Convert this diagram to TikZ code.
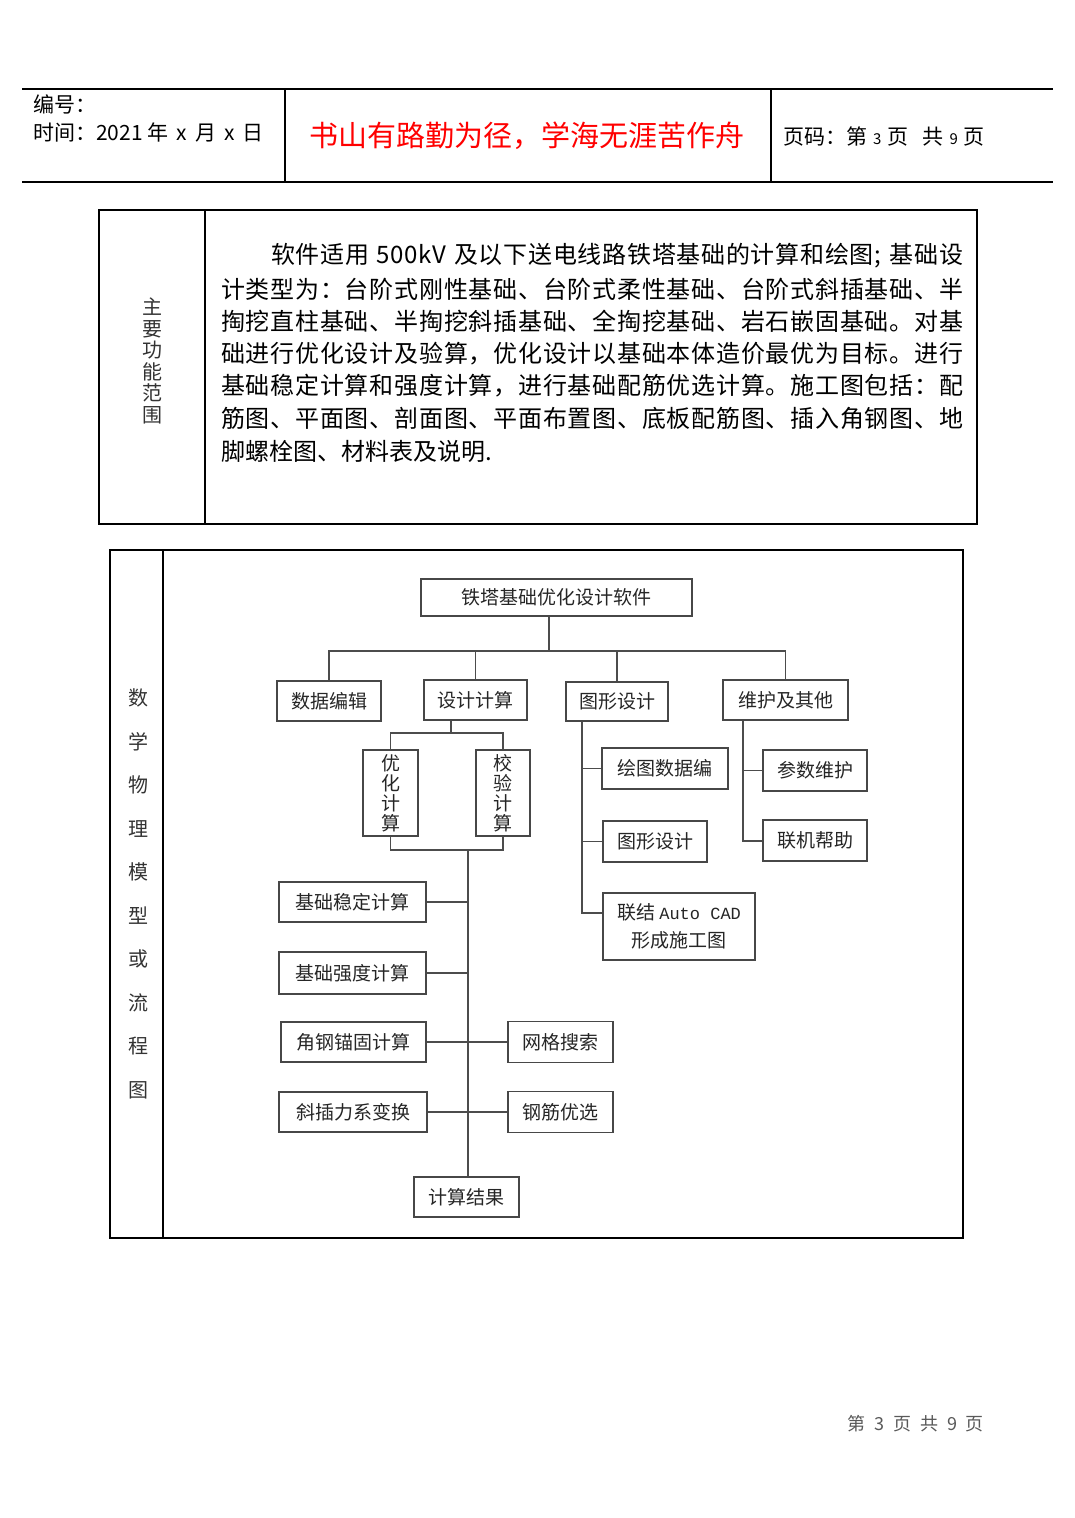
\documentclass[tikz,border=0pt]{standalone}
\usepackage{fontspec}
\setmainfont{Noto Sans CJK SC}
\newfontfamily\cjk{Noto Sans CJK SC}
\newfontfamily\monofam{Liberation Mono}
\newcommand\myjust{\XeTeXinterchartokenstate=1
  \XeTeXinterchartoks 0 0 = {\hskip 0pt plus 1pt}%
  \XeTeXinterchartoks 0 1 = {\hskip 0pt plus 1pt}%
  \XeTeXinterchartoks 1 0 = {\hskip 0pt plus 1pt}%
  \XeTeXinterchartoks 1 1 = {\hskip 0pt plus 1pt}%
  \XeTeXinterchartoks 1 2 = {\hskip 0pt plus 1pt}%
  \XeTeXinterchartoks 1 3 = {\hskip 0pt plus 1pt}%
  \XeTeXinterchartoks 2 1 = {\hskip 0pt plus 1pt}%
  \XeTeXinterchartoks 3 1 = {\hskip 0pt plus 1pt}%
  \XeTeXinterchartoks 3 0 = {\hskip 0pt plus 1pt}%
  \XeTeXinterchartoks 0 3 = {\hskip 0pt plus 1pt}%
  \XeTeXinterchartoks 3 3 = {\hskip 0pt plus 1pt}}
\newcommand\jline[2]{\makebox[#1][s]{#2}}
\begin{document}
\begin{tikzpicture}[x=1pt,y=-1pt,
  box/.style={draw=black!72, line width=1.8pt, inner sep=0pt, font=\fontsize{19}{20}\selectfont, text=black!85},
  link/.style={draw=black!70, line width=1.6pt},
  rule/.style={draw=black, line width=1.1pt},
  body/.style={anchor=west, inner sep=0pt, font=\fontsize{24}{24}\selectfont\myjust},
  hd/.style={anchor=west, inner sep=0pt, font=\fontsize{21}{21}\selectfont}]
\useasboundingbox (0,0) rectangle (1075,1518);
\fill[white] (0,0) rectangle (1075,1518);

% header
\draw[rule] (22,89) -- (1053,89);
\draw[rule] (22,182) -- (1053,182);
\draw[rule] (285,89) -- (285,182);
\draw[rule] (771,89) -- (771,182);
\node[hd] (bh) at (33,104) {编号：};
\node[hd] (sj) at (33,132) {时间：2021\hspace{5pt}年\hspace{8pt}x\hspace{8pt}月\hspace{8pt}x\hspace{8pt}日};
\node[inner sep=0pt, text=red, font=\fontsize{29}{29}\selectfont] (title) at (527,136) {书山有路勤为径，学海无涯苦作舟};
\node[hd] (ym) at (783,136) {页码：第\hspace{6pt}{\fontsize{15}{15}\selectfont 3}\hspace{6pt}页\hspace{14pt}共\hspace{6pt}{\fontsize{15}{15}\selectfont 9}\hspace{6pt}页};

% table 1
\draw[rule] (99,210) rectangle (977,524);
\draw[rule] (205,210) -- (205,524);
\node[align=center, inner sep=0pt, text=black!80, font=\fontsize{20}{21.5}\selectfont] (zy) at (152,361) {主\\要\\功\\能\\范\\围};
\node[body] (l1) at (271,256) {\jline{692pt}{软件适用 500kV 及以下送电线路铁塔基础的计算和绘图; 基础设}};
\node[body] (l2) at (221,289) {\jline{742pt}{计类型为：台阶式刚性基础、台阶式柔性基础、台阶式斜插基础、半}};
\node[body] (l3) at (221,321) {\jline{742pt}{掏挖直柱基础、半掏挖斜插基础、全掏挖基础、岩石嵌固基础。对基}};
\node[body] (l4) at (221,354) {\jline{742pt}{础进行优化设计及验算，优化设计以基础本体造价最优为目标。进行}};
\node[body] (l5) at (221,386) {\jline{742pt}{基础稳定计算和强度计算，进行基础配筋优选计算。施工图包括：配}};
\node[body] (l6) at (221,418) {\jline{742pt}{筋图、平面图、剖面图、平面布置图、底板配筋图、插入角钢图、地}};
\node[body] (l7) at (221,451) {脚螺栓图、材料表及说明.};

% table 2
\draw[rule] (110,550) rectangle (963,1238);
\draw[rule] (163,550) -- (163,1238);
\foreach \c [count=\i from 0] in {数,学,物,理,模,型,或,流,程,图}
  \node[inner sep=0pt, text=black!80, font=\fontsize{20}{20}\selectfont] (lab\i) at (138,698+\i*43.55) {\c};

% flowchart nodes
\node[box, minimum width=271pt, minimum height=37pt] (root) at (556.5,597.5) {铁塔基础优化设计软件};
\node[box, minimum width=104pt, minimum height=40pt] (sjbj) at (329,701) {数据编辑};
\node[box, minimum width=103pt, minimum height=40pt] (sjjs) at (475.5,700) {设计计算};
\node[box, minimum width=102pt, minimum height=39pt] (txsj) at (617,701.5) {图形设计};
\node[box, minimum width=125pt, minimum height=40pt] (whqt) at (785.5,700) {维护及其他};
\node[box, minimum width=55pt, minimum height=86pt, align=center] (yhjs) at (390.5,793) {优\\化\\计\\算};
\node[box, minimum width=54pt, minimum height=86pt, align=center] (jyjs) at (503,793) {校\\验\\计\\算};
\node[box, minimum width=126pt, minimum height=41pt] (htsj) at (665,768.5) {绘图数据编};
\node[box, minimum width=104pt, minimum height=41pt] (txsj2) at (655,841.5) {图形设计};
\node[box, minimum width=152pt, minimum height=67pt, align=center, font=\fontsize{19}{28}\selectfont] (ljcad) at (679,926.5) {联结 {\monofam\fontsize{17}{17}\selectfont Auto CAD}\\形成施工图};
\node[box, minimum width=104pt, minimum height=41pt] (cswh) at (815,770.5) {参数维护};
\node[box, minimum width=104pt, minimum height=41pt] (ljbz) at (815,840.5) {联机帮助};
\node[box, minimum width=147pt, minimum height=40pt] (wdjs) at (352.5,902) {基础稳定计算};
\node[box, minimum width=147pt, minimum height=42pt] (qdjs) at (352.5,973) {基础强度计算};
\node[box, minimum width=145pt, minimum height=40pt] (gmjs) at (353.5,1042) {角钢锚固计算};
\node[box, minimum width=148pt, minimum height=40pt] (xcbh) at (353,1112) {斜插力系变换};
\node[box, minimum width=105pt, minimum height=41pt] (wgss) at (560.5,1042) {网格搜索};
\node[box, minimum width=105pt, minimum height=41pt] (gjyx) at (560.5,1112) {钢筋优选};
\node[box, minimum width=105pt, minimum height=40pt] (jsjg) at (466.5,1197) {计算结果};

% connectors
\coordinate (t1) at (549,651);
\coordinate (d1) at (451,733);
\coordinate (d2) at (468,850);
\coordinate (g) at (582,913);
\coordinate (m) at (743,841);
\draw[link] (root.south -| t1) -- (t1);
\draw[link] (sjbj.north) -- (sjbj.north |- t1) -- (whqt.north |- t1) -- (whqt.north);
\draw[link] (sjjs.north) -- (sjjs.north |- t1);
\draw[link] (txsj.north) -- (txsj.north |- t1);
\draw[link] (sjjs.south -| d1) -- (d1);
\draw[link] (yhjs.north) -- (yhjs.north |- d1) -- (jyjs.north |- d1) -- (jyjs.north);
\draw[link] (yhjs.south) -- (yhjs.south |- d2) -- (jyjs.south |- d2) -- (jyjs.south);
\draw[link] (d2) -- (jsjg.north -| d2);
\draw[link] (wdjs.east) -- (wdjs.east -| d2);
\draw[link] (qdjs.east) -- (qdjs.east -| d2);
\draw[link] (gmjs.east) -- (wgss.west);
\draw[link] (xcbh.east) -- (gjyx.west);
\draw[link] (txsj.south -| g) -- (g) -- (ljcad.west |- g);
\draw[link] (g |- htsj.west) -- (htsj.west);
\draw[link] (g |- txsj2.west) -- (txsj2.west);
\draw[link] (whqt.south -| m) -- (m) -- (ljbz.west |- m);
\draw[link] (m |- cswh.west) -- (cswh.west);

% footer
\node[inner sep=0pt, text=black!65, font=\fontsize{18}{18}\selectfont] (ft) at (915.5,1424) {第\hspace{9pt}3\hspace{9pt}页\hspace{9pt}共\hspace{9pt}9\hspace{9pt}页};
\end{tikzpicture}
\end{document}
